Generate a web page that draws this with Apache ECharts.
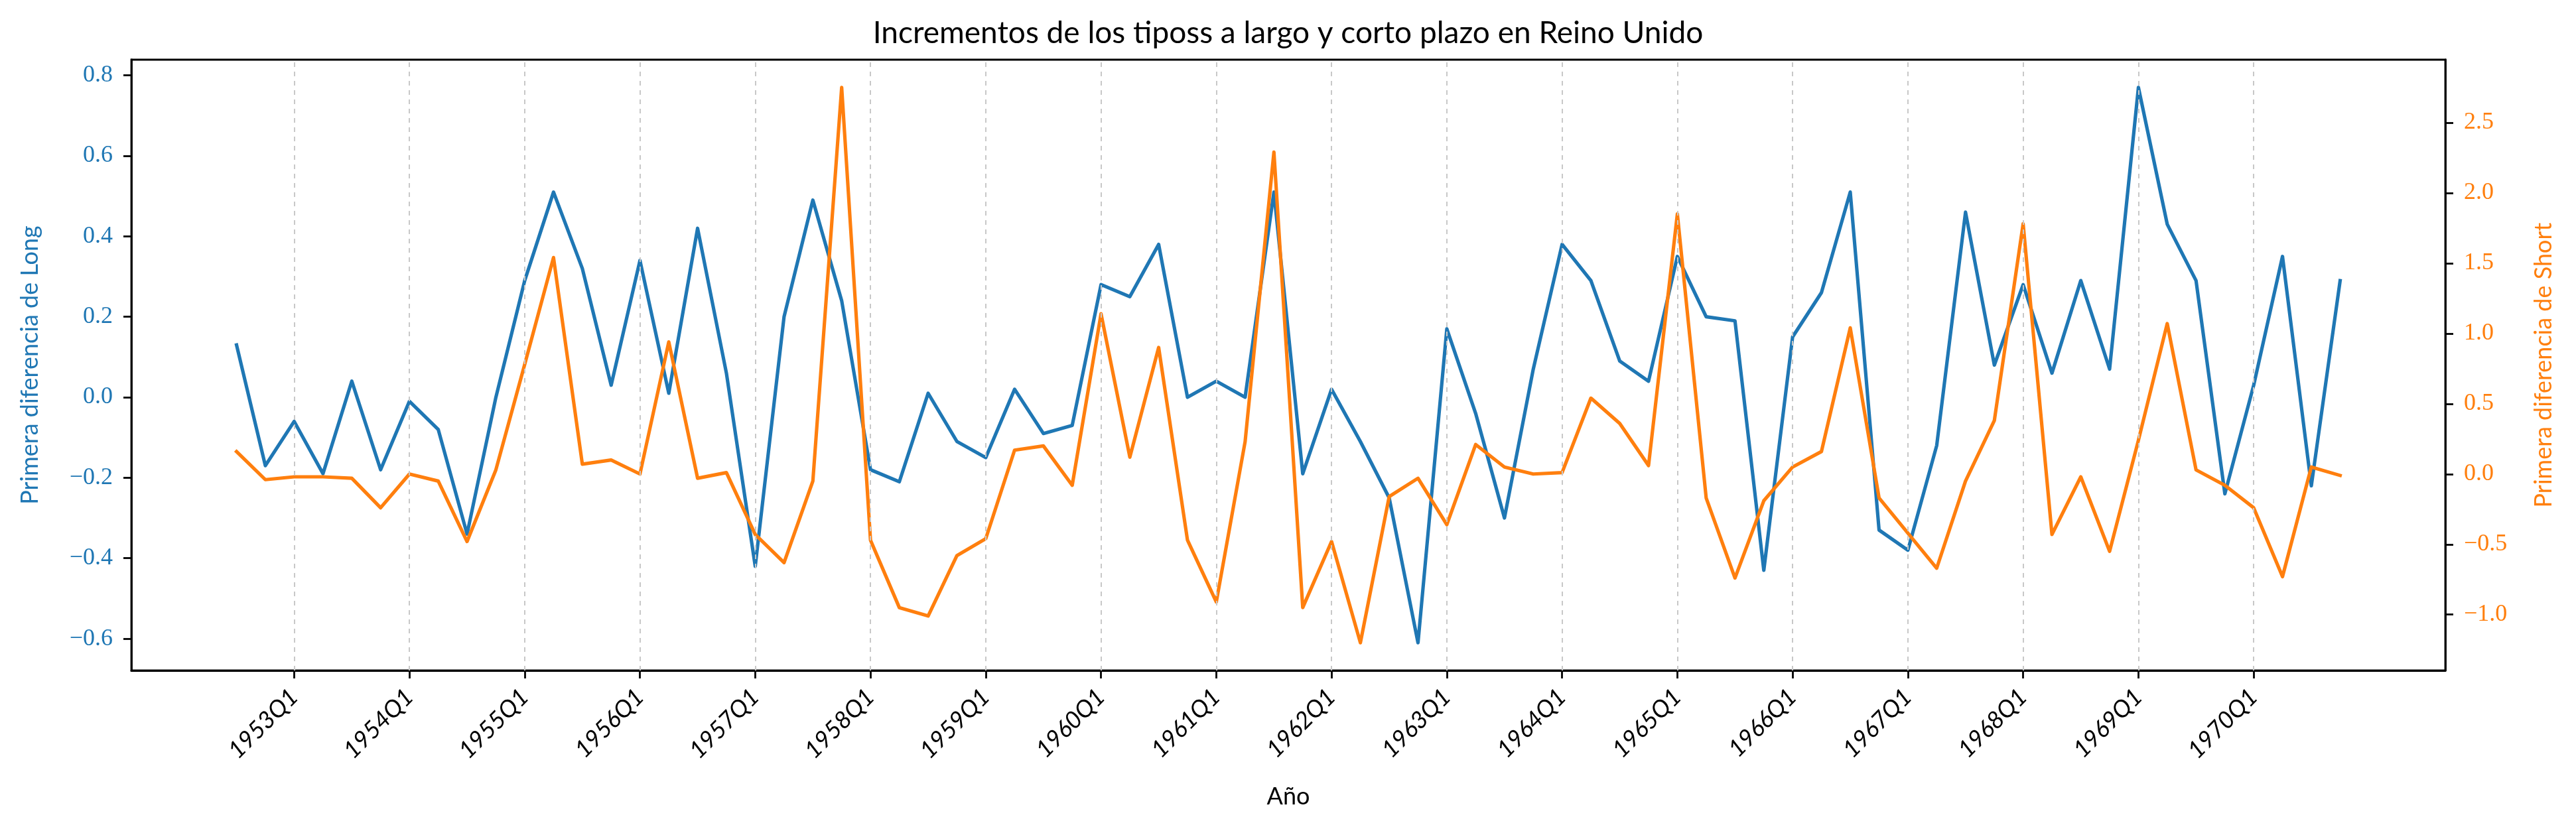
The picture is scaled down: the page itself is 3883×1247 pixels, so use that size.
<!DOCTYPE html>
<html>
<head>
<meta charset="utf-8">
<script src="https://cdn.jsdelivr.net/npm/echarts@6/dist/echarts.min.js"></script>
<style>
html,body{margin:0;padding:0;background:#fff;}
#chart{width:3883px;height:1247px;}
</style>
</head>
<body>
<div id="chart"></div>
<script>
// ---- data ----
const quarters = [
 "1952Q3","1952Q4",
 "1953Q1","1953Q2","1953Q3","1953Q4",
 "1954Q1","1954Q2","1954Q3","1954Q4",
 "1955Q1","1955Q2","1955Q3","1955Q4",
 "1956Q1","1956Q2","1956Q3","1956Q4",
 "1957Q1","1957Q2","1957Q3","1957Q4",
 "1958Q1","1958Q2","1958Q3","1958Q4",
 "1959Q1","1959Q2","1959Q3","1959Q4",
 "1960Q1","1960Q2","1960Q3","1960Q4",
 "1961Q1","1961Q2","1961Q3","1961Q4",
 "1962Q1","1962Q2","1962Q3","1962Q4",
 "1963Q1","1963Q2","1963Q3","1963Q4",
 "1964Q1","1964Q2","1964Q3","1964Q4",
 "1965Q1","1965Q2","1965Q3","1965Q4",
 "1966Q1","1966Q2","1966Q3","1966Q4",
 "1967Q1","1967Q2","1967Q3","1967Q4",
 "1968Q1","1968Q2","1968Q3","1968Q4",
 "1969Q1","1969Q2","1969Q3","1969Q4",
 "1970Q1","1970Q2","1970Q3","1970Q4"
];
const longDiff = [
 0.13,-0.17,
 -0.06,-0.19,0.04,-0.18,
 -0.01,-0.08,-0.34,0.00,
 0.29,0.51,0.32,0.03,
 0.34,0.01,0.42,0.06,
 -0.42,0.20,0.49,0.24,
 -0.18,-0.21,0.01,-0.11,
 -0.15,0.02,-0.09,-0.07,
 0.28,0.25,0.38,0.00,
 0.04,0.00,0.51,-0.19,
 0.02,-0.11,-0.25,-0.61,
 0.17,-0.04,-0.30,0.07,
 0.38,0.29,0.09,0.04,
 0.35,0.20,0.19,-0.43,
 0.15,0.26,0.51,-0.33,
 -0.38,-0.12,0.46,0.08,
 0.28,0.06,0.29,0.07,
 0.77,0.43,0.29,-0.24,
 0.03,0.35,-0.22,0.29
];
const shortDiff = [
 0.16,-0.04,
 -0.02,-0.02,-0.03,-0.24,
 0.00,-0.05,-0.48,0.03,
 0.78,1.54,0.07,0.10,
 0.00,0.94,-0.03,0.01,
 -0.43,-0.63,-0.05,2.75,
 -0.47,-0.95,-1.01,-0.58,
 -0.46,0.17,0.20,-0.08,
 1.14,0.12,0.90,-0.47,
 -0.91,0.23,2.29,-0.95,
 -0.48,-1.20,-0.16,-0.03,
 -0.36,0.21,0.05,0.00,
 0.01,0.54,0.36,0.06,
 1.85,-0.17,-0.74,-0.19,
 0.05,0.16,1.04,-0.17,
 -0.42,-0.67,-0.05,0.38,
 1.78,-0.43,-0.02,-0.55,
 0.24,1.07,0.03,-0.08,
 -0.24,-0.73,0.05,-0.01
];
const xTickLabels = ["1953Q1","1954Q1","1955Q1","1956Q1","1957Q1","1958Q1","1959Q1","1960Q1","1961Q1","1962Q1","1963Q1","1964Q1","1965Q1","1966Q1","1967Q1","1968Q1","1969Q1","1970Q1"];
const leftTicks = [-0.6,-0.4,-0.2,0.0,0.2,0.4,0.6,0.8];
const rightTicks = [-1.0,-0.5,0.0,0.5,1.0,1.5,2.0,2.5];

// ---- build ----
const BLUE = '#1f77b4', ORANGE = '#ff7f0e';
const xTickIdx = xTickLabels.map(l => quarters.indexOf(l));
const n = quarters.length;
function padRange(arr){
  const mn = Math.min(...arr), mx = Math.max(...arr), s = mx - mn;
  return [mn - 0.05*s, mx + 0.05*s];
}
const xr = [-(n-1)*0.05, (n-1)*1.05];
const lr = padRange(longDiff), rr = padRange(shortDiff);
const fmt = v => (v < 0 ? '\u2212' : '') + Math.abs(v).toFixed(1);

const chart = echarts.init(document.getElementById('chart'), null, {renderer:'canvas'});
const SANS = 'Lato, "Open Sans", sans-serif';
const SERIF = '"Liberation Serif", "DejaVu Serif", serif';
const AX = {color:'#000', width:2.8};
chart.setOption({
  animation:false,
  backgroundColor:'#ffffff',
  title:{
    text:'Incrementos de los tiposs a largo y corto plazo en Reino Unido',
    left:'center', top:22,
    textStyle:{fontFamily:SANS, fontSize:46, fontWeight:'normal', color:'#000'}
  },
  grid:{left:198, right:197, top:90, bottom:236, show:true, borderColor:'#000', borderWidth:2.8, backgroundColor:'transparent'},
  xAxis:{
    type:'value', min:xr[0], max:xr[1],
    name:'Año', nameLocation:'middle', nameGap:172,
    nameTextStyle:{fontFamily:SANS, fontSize:36, color:'#000'},
    axisLine:{show:true, onZero:false, lineStyle:AX},
    axisTick:{show:true, length:12, lineStyle:AX, customValues:xTickIdx},
    axisLabel:{show:true, rotate:45, margin:34, fontFamily:SANS, fontStyle:'italic', fontSize:36, color:'#000',
      customValues:xTickIdx, formatter: v => quarters[Math.round(v)] || ''},
    splitLine:{show:false}
  },
  yAxis:[{
    type:'value', position:'left', min:lr[0], max:lr[1],
    name:'Primera diferencia de Long', nameLocation:'middle', nameGap:135,
    nameTextStyle:{fontFamily:SANS, fontSize:36, color:BLUE},
    axisLine:{show:true, onZero:false, lineStyle:AX},
    axisTick:{show:true, length:12, lineStyle:AX, customValues:leftTicks},
    axisLabel:{show:true, margin:28, fontFamily:SERIF, fontSize:36, color:BLUE, customValues:leftTicks, formatter:fmt},
    splitLine:{show:false}
  },{
    type:'value', position:'right', min:rr[0], max:rr[1],
    name:'Primera diferencia de Short', nameLocation:'middle', nameGap:130,
    nameTextStyle:{fontFamily:SANS, fontSize:36, color:ORANGE},
    axisLine:{show:true, onZero:false, lineStyle:AX},
    axisTick:{show:true, length:12, lineStyle:AX, customValues:rightTicks},
    axisLabel:{show:true, margin:28, fontFamily:SERIF, fontSize:36, color:ORANGE, customValues:rightTicks, formatter:fmt},
    splitLine:{show:false}
  }],
  series:[{
    name:'Long', type:'line', yAxisIndex:0, showSymbol:false, symbol:'none',
    data: longDiff.map((v,i) => [i, v]),
    lineStyle:{color:BLUE, width:5.2, join:'round', cap:'square'},
    itemStyle:{color:BLUE},
    z:2,
    markLine:{
      silent:true, symbol:'none', label:{show:false}, animation:false,
      lineStyle:{color:'#c8c8c8', type:[7,7], width:2},
      data: xTickIdx.map(i => ({xAxis:i}))
    }
  },{
    name:'Short', type:'line', yAxisIndex:1, showSymbol:false, symbol:'none',
    data: shortDiff.map((v,i) => [i, v]),
    lineStyle:{color:ORANGE, width:5.2, join:'round', cap:'square'},
    itemStyle:{color:ORANGE},
    z:3
  }]
});
</script>
</body>
</html>
